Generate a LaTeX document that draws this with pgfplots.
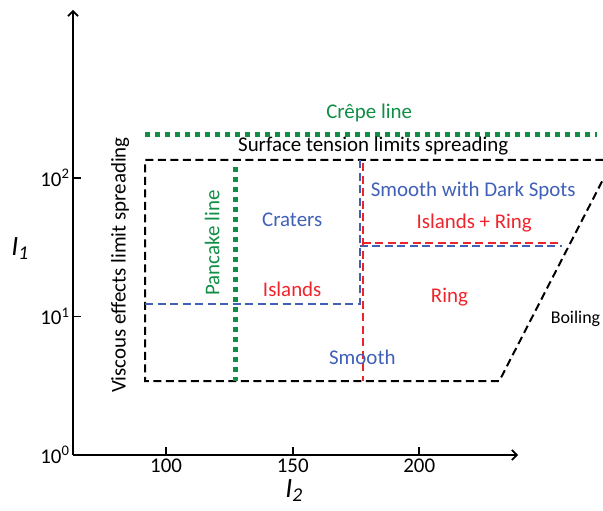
\documentclass[border=0pt]{standalone}
\usepackage{fontspec}
\setmainfont{Carlito}
\usepackage{pgfplots}
\pgfplotsset{compat=1.18}
\usetikzlibrary{arrows.meta}
\definecolor{crepegreen}{RGB}{16,142,68}
\definecolor{regblue}{RGB}{64,96,184}
\definecolor{regred}{RGB}{238,36,44}
\begin{document}
\begin{tikzpicture}
\useasboundingbox (-73bp,-56bp) rectangle (530bp,455bp);
\begin{axis}[
    at={(0,0)}, anchor=south west,
    scale only axis, width=445bp, height=445bp,
    xmin=63.2, xmax=239,
    ymode=log, ymin=1, ymax=1633,
    axis lines=left,
    axis line style={line width=1.7bp, -{Straight Barb[length=5bp,width=10bp]}},
    xtick={100,150,200}, xticklabels={100,150,200},
    ytick={1,10,100},
    yticklabels={10\textsuperscript{0},10\textsuperscript{1},10\textsuperscript{2}},
    yminorticks=false,
    tick align=inside,
    major tick length=8bp,
    tick style={line width=1.7bp, black},
    tick label style={font=\fontsize{21}{23}\selectfont},
    xlabel={\textit{I}\textsubscript{\textit{2}}},
    ylabel={\textit{I}\textsubscript{\textit{1}}},
    label style={font=\fontsize{28}{30}\selectfont},
    xlabel style={at={(axis description cs:0.497,-0.079)}, anchor=center},
    ylabel style={at={(axis description cs:-0.119,0.465)}, anchor=center, rotate=-90},
    clip=false,
]
% regime boundaries
\addplot[black, line width=2bp, dash pattern=on 8bp off 4.5bp]
    coordinates {(272.7,134.9) (91.7,134.9) (91.7,3.42) (231.6,3.42) (272.7,98.4)};
\addplot[crepegreen, line width=5bp, dash pattern=on 5bp off 5bp]
    coordinates {(91.7,207.8) (270.4,207.8)};
\addplot[crepegreen, line width=5bp, dash pattern=on 5bp off 5bp]
    coordinates {(127.4,120) (127.4,3.42)};
\addplot[regblue, line width=2bp, dash pattern=on 8bp off 4.5bp]
    coordinates {(91.7,12.3) (176.4,12.3) (176.4,134.9)};
\addplot[regblue, line width=2bp, dash pattern=on 8bp off 4.5bp]
    coordinates {(176.4,32.3) (256.4,32.3)};
\addplot[regred, line width=2bp, dash pattern=on 8bp off 4.5bp]
    coordinates {(177.6,128) (177.6,3.42)};
\addplot[regred, line width=2bp, dash pattern=on 8bp off 4.5bp]
    coordinates {(177.6,34.1) (256.4,34.1)};

\begin{scope}[font=\fontsize{21}{23}\selectfont]
\node[text=crepegreen] at (axis cs:180.2,294.5) {Crêpe line};
\node at (axis cs:181.8,170.3) {Surface tension limits spreading};
\node[rotate=90] at (axis cs:81.8,23.5) {Viscous effects limit spreading};
\node[rotate=90, text=crepegreen] at (axis cs:118.2,33.9) {Pancake line};
\node[text=regblue] at (axis cs:149.8,49.7) {Craters};
\node[text=regred] at (axis cs:149.8,15.8) {Islands};
\node[text=regblue] at (axis cs:221.3,80.5) {Smooth with Dark Spots};
\node[text=regred] at (axis cs:221.7,47.3) {Islands + Ring};
\node[text=regred] at (axis cs:211.9,13.8) {Ring};
\node[text=regblue] at (axis cs:177.5,5.10) {Smooth};
\node[font=\fontsize{18}{20}\selectfont] at (axis cs:261.7,9.59) {Boiling};
\end{scope}
\end{axis}
\end{tikzpicture}
\end{document}
